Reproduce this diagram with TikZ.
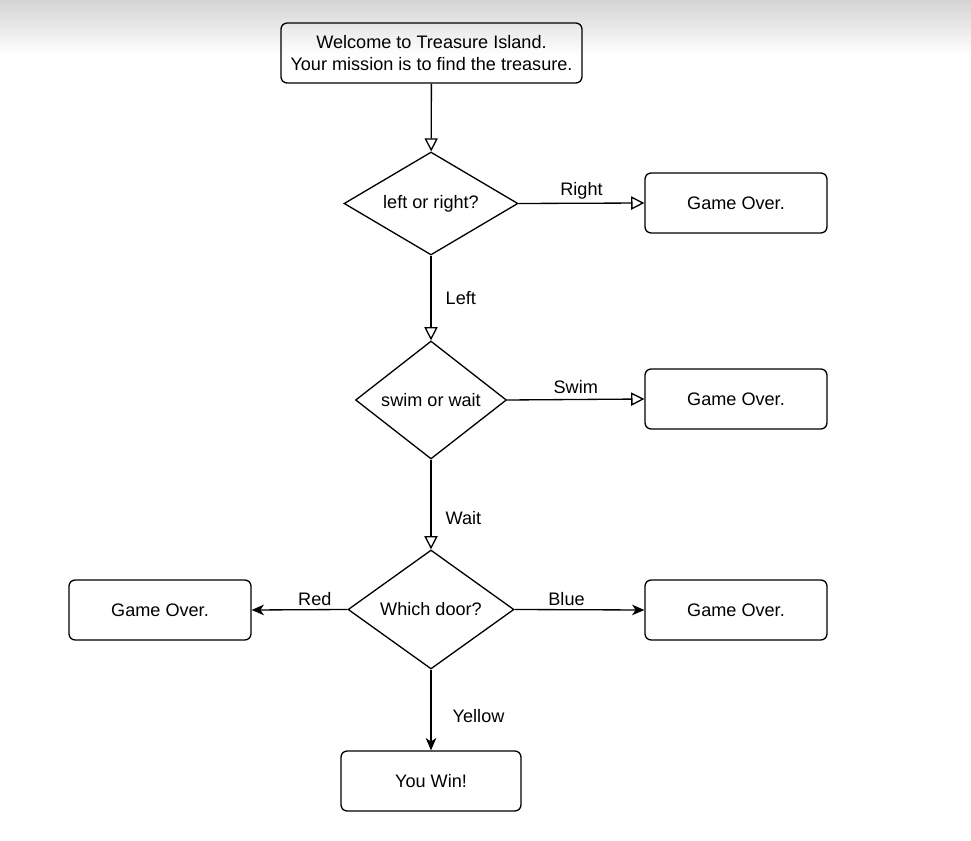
\documentclass[tikz,border=0pt]{standalone}
\usepackage{fontspec}
\setmainfont{Liberation Sans}
\usetikzlibrary{shapes.geometric,arrows.meta}

\begin{document}
\begin{tikzpicture}[x=0.02cm,y=-0.02cm,
        font=\fontsize{10.3}{13}\selectfont,
        box/.style={draw, rounded corners=3.5pt, line width=0.75pt, minimum height=1.2cm, align=center, inner sep=2pt},
        choice/.style={draw, diamond, line width=0.75pt, inner sep=0pt},
        open/.style={-{Triangle[open,length=7.5pt,width=7.5pt]}, line width=0.75pt},
        solid/.style={-{Stealth[length=7pt,width=6pt,inset=2pt]}, line width=0.75pt},
        lbl/.style={inner sep=2pt}]
        \useasboundingbox (0,0) rectangle (971,841);
        \shade[top color=black!17, bottom color=white] (0,0) rectangle (971,55);

        % boxes and choices
        \node[box, minimum width=6.02cm] (start) at (431.5,53) {Welcome to Treasure Island.\\Your mission is to find the treasure.};
        \node[choice, aspect=2, minimum width=3.48cm, minimum height=2.06cm] (side) at (431,203.5) {left or right?};
        \node[choice, minimum width=3.02cm, minimum height=2.36cm] (lake) at (431,400) {swim or wait};
        \node[choice, minimum width=3.32cm, minimum height=2.38cm] (door) at (431,609.5) {Which door?};
        \node[box, minimum width=3.64cm] (over1) at (736,203) {Game Over.};
        \node[box, minimum width=3.64cm] (over2) at (736,399) {Game Over.};
        \node[box, minimum width=3.64cm] (red) at (160,610) {Game Over.};
        \node[box, minimum width=3.64cm] (blue) at (736,610) {Game Over.};
        \node[box, minimum width=3.6cm] (win) at (431,781) {You Win!};

        % connectors
        \draw[open] (start) -- (side);
        \draw[open] (side.east) -- node[lbl, above] {Right} (over1.west);
        \draw[open] (side.south) -- node[lbl, right=6pt] {Left} (lake.north);
        \draw[open] (lake.east) -- node[lbl, above=1pt] {Swim} (over2.west);
        \draw[open] (lake.south) -- node[lbl, pos=0.65, right=6pt] {Wait} (door.north);
        \draw[solid] (door.west) -- node[lbl, pos=0.34, above] {Red} (red.east);
        \draw[solid] (door.east) -- node[lbl, pos=0.4, above] {Blue} (blue.west);
        \draw[solid] (door.south) -- node[lbl, pos=0.57, right=10pt] {Yellow} (win.north);
\end{tikzpicture}
\end{document}
